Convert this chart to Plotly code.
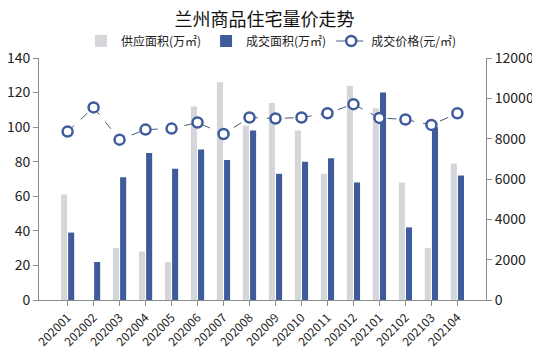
import plotly.graph_objects as go

months = ["202001","202002","202003","202004","202005","202006","202007","202008",
          "202009","202010","202011","202012","202101","202102","202103","202104"]
supply = [61, 0, 30, 28, 22, 112, 126, 101, 114, 98, 73, 124, 111, 68, 30, 79]
deal = [39, 22, 71, 85, 76, 87, 81, 98, 73, 80, 82, 68, 120, 42, 100, 72]
price = [8350, 9550, 7950, 8450, 8500, 8800, 8230, 9050, 9000, 9050, 9260, 9710, 9030, 8950, 8680, 9260]

gray = "#d4d6da"
blue = "#3e5c9c"
font = "Noto Sans CJK SC"

fig = go.Figure()
fig.add_trace(go.Bar(x=months, y=supply, name="供应面积(万㎡)", marker_color=gray,
                     marker_line_width=0))
fig.add_trace(go.Bar(x=months, y=deal, name="成交面积(万㎡)", marker_color=blue,
                     marker_line_width=0))
fig.add_trace(go.Scatter(x=months, y=price, name="成交价格(元/㎡)", yaxis="y2",
                         mode="lines+markers",
                         line=dict(color="#4a5a7a", width=1, dash="dash"),
                         marker=dict(symbol="circle", size=10, color="white",
                                     line=dict(color=blue, width=2.5))))

axis_common = dict(showline=True, linecolor="#8c8c8c", linewidth=1, ticks="outside",
                   tickcolor="#8c8c8c", ticklen=5, showgrid=False, zeroline=False,
                   tickfont=dict(size=14, color="#222", family=font))

H = 362
W = 540
fig.update_layout(
    width=W, height=H,
    margin=dict(l=31, r=62, t=50, b=70, autoexpand=False),
    paper_bgcolor="white", plot_bgcolor="white",
    title=dict(text="兰州商品住宅量价走势", x=0.475, xanchor="center",
               yref="container", y=1 - 12 / H, yanchor="middle",
               font=dict(size=18, color="#111", family=font)),
    legend=dict(orientation="h", x=0.52, xanchor="center",
                yref="container", y=1 - 33 / H, yanchor="middle",
                font=dict(size=12, color="#222", family=font),
                bgcolor="rgba(0,0,0,0)", tracegroupgap=0, itemwidth=30),
    barmode="group", bargap=0.45, bargroupgap=0.15,
    xaxis=dict(axis_common, tickangle=-45,
               tickfont=dict(size=12, color="#222", family=font)),
    yaxis=dict(axis_common, range=[0, 140], dtick=20),
    yaxis2=dict(axis_common, range=[0, 12000], dtick=2000, tickformat="d",
                overlaying="y", side="right"),
    showlegend=True,
)

fig.write_html("out.html")
